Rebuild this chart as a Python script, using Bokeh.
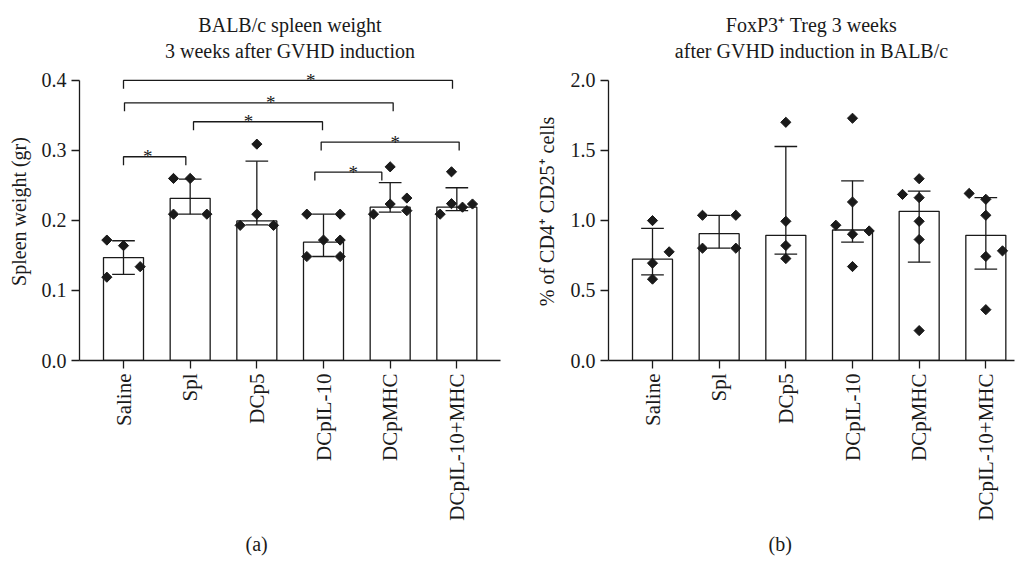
import math
from bokeh.plotting import figure
from bokeh.layouts import row
from bokeh.models import FixedTicker, ColumnDataSource, Title, NumeralTickFormatter
from bokeh.embed import file_html
from bokeh.resources import INLINE

# ---------------- data ----------------
categories = ["Saline", "Spl", "DCp5", "DCpIL-10", "DCpMHC", "DCpIL-10+MHC"]

# (a) spleen weight (gr): bar = median, whiskers = interquartile range
spleen_bar = [0.147, 0.2316, 0.1993, 0.169, 0.219, 0.219]
spleen_lo = [0.123, 0.209, 0.1936, 0.1485, 0.212, 0.214]
spleen_hi = [0.171, 0.259, 0.2847, 0.209, 0.254, 0.2467]
spleen_points = [
    [0.172, 0.164, 0.134, 0.119],
    [0.260, 0.260, 0.209, 0.209],
    [0.309, 0.209, 0.193, 0.193],
    [0.209, 0.209, 0.172, 0.172, 0.1485, 0.1485],
    [0.2766, 0.232, 0.2235, 0.209, 0.214],
    [0.2695, 0.224, 0.219, 0.2235, 0.209],
]
spleen_jitter = [
    [-0.25, 0.0, 0.25, -0.25],
    [-0.25, 0.0, -0.25, 0.25],
    [0.0, 0.0, -0.25, 0.25],
    [-0.25, 0.25, 0.0, 0.25, -0.25, 0.25],
    [0.0, 0.25, 0.0, -0.25, 0.25],
    [-0.08, -0.08, 0.085, 0.235, -0.25],
]
# significance brackets
br_from = [0, 0, 1, 0, 3, 3]
br_to = [5, 4, 3, 1, 5, 4]
br_y = [0.400, 0.368, 0.341, 0.291, 0.312, 0.269]
br_nudge_from = [0.0, 0.015, 0.05, 0.0, -0.035, -0.13]
br_nudge_to = [-0.065, 0.045, -0.015, -0.065, 0.035, -0.125]
star_x = [2.81, 2.21, 1.875, 0.365, 4.075, 3.445]
star_text = ["*", "*", "*", "*", "*", "*"]

# (b) FoxP3+ Treg (% of CD4+ CD25+ cells)
treg_bar = [0.7236, 0.906, 0.894, 0.932, 1.065, 0.894]
treg_lo = [0.612, 0.802, 0.759, 0.845, 0.702, 0.652]
treg_hi = [0.944, 1.037, 1.528, 1.283, 1.21, 1.163]
treg_points = [
    [0.999, 0.776, 0.695, 0.581],
    [1.037, 1.037, 0.802, 0.802],
    [1.701, 0.994, 0.821, 0.728],
    [1.73, 1.132, 0.966, 0.925, 0.902, 0.671],
    [1.298, 1.186, 1.163, 0.994, 0.864, 0.2135],
    [1.193, 1.151, 1.037, 0.783, 0.743, 0.363],
]
treg_jitter = [
    [0.0, 0.25, 0.0, 0.0],
    [-0.25, 0.25, -0.25, 0.25],
    [0.0, 0.0, 0.0, 0.0],
    [0.0, 0.0, -0.25, 0.25, 0.0, 0.0],
    [0.0, -0.25, 0.0, 0.0, 0.0, 0.0],
    [-0.25, 0.0, 0.0, 0.25, 0.0, 0.0],
]

spleen_ticks = [0.0, 0.1, 0.2, 0.3, 0.4]
treg_ticks = [0.0, 0.5, 1.0, 1.5, 2.0]

spleen_title = ["BALB/c spleen weight", "3 weeks after GVHD induction"]
treg_title = ["FoxP3\u207a Treg 3 weeks", "after GVHD induction in BALB/c"]

FONT = "Liberation Serif"
INK = "#1a1a1a"
LW = 1.3
H = 562


def make_panel(width, x_end, y_end, y_ticks, title_lines, ylabel, panel_tag,
               tag_offset, border_left, border_right, label_standoff,
               bars, lo, hi, points, jitter):
    p = figure(width=width, height=H, output_backend="svg",
               toolbar_location=None, x_range=(-0.66, x_end),
               y_range=(0, y_end), min_border_left=border_left,
               min_border_right=border_right, min_border_top=62,
               min_border_bottom=H - 361)
    p.outline_line_color = None
    p.grid.visible = False
    p.background_fill_color = "white"

    # title lines: the first one added sits nearest the frame
    for line in reversed(title_lines):
        p.add_layout(Title(text=line, align="center", text_font=FONT,
                           text_font_size="20px", text_font_style="normal",
                           text_color=INK, standoff=2), "above")
    p.add_layout(Title(text=panel_tag, align="left", offset=tag_offset,
                       text_font=FONT, text_font_size="20px",
                       text_font_style="normal", text_color=INK,
                       standoff=15), "below")

    xs = list(range(len(categories)))
    src = ColumnDataSource(dict(x=xs, bar=bars, lo=lo, hi=hi,
                                cl=[x - 0.17 for x in xs],
                                cr=[x + 0.17 for x in xs]))
    p.vbar(x="x", top="bar", bottom=0, width=0.6, source=src,
           fill_color="white", line_color=INK, line_width=LW)
    p.segment(x0="x", y0="lo", x1="x", y1="hi", source=src,
              line_color=INK, line_width=LW)
    p.segment(x0="cl", y0="hi", x1="cr", y1="hi", source=src,
              line_color=INK, line_width=LW)
    p.segment(x0="cl", y0="lo", x1="cr", y1="lo", source=src,
              line_color=INK, line_width=LW)

    px, py = [], []
    for i, (vals, jit) in enumerate(zip(points, jitter)):
        for v, j in zip(vals, jit):
            px.append(i + j)
            py.append(v)
    p.scatter(px, py, marker="square", angle=math.pi / 4, size=7.2,
              fill_color=INK, line_color=INK)

    # axes
    ax = p.xaxis[0]
    ax.ticker = FixedTicker(ticks=xs)
    ax.major_label_overrides = {i: c for i, c in enumerate(categories)}
    ax.major_label_orientation = math.pi / 2
    ax.minor_tick_line_color = None
    ax.major_label_text_font_size = "21px"

    ay = p.yaxis[0]
    ay.ticker = FixedTicker(ticks=y_ticks)
    ay.formatter = NumeralTickFormatter(format="0.0")
    ay.bounds = (y_ticks[0], y_ticks[-1])
    ay.axis_label = ylabel
    ay.axis_label_text_font = FONT
    ay.axis_label_text_font_size = "20px"
    ay.axis_label_text_font_style = "normal"
    ay.axis_label_text_color = INK
    ay.axis_label_standoff = label_standoff
    ay.minor_tick_line_color = None
    ay.major_label_text_font_size = "20px"

    for a in (ax, ay):
        a.axis_line_color = INK
        a.axis_line_width = LW
        a.major_tick_line_color = INK
        a.major_tick_line_width = LW
        a.major_tick_out = 8
        a.major_tick_in = 0
        a.major_label_text_font = FONT
        a.major_label_text_color = INK
        a.major_label_standoff = 5
    return p


pa = make_panel(510, 5.655, 0.4256, spleen_ticks, spleen_title,
                "Spleen weight (gr)", "(a)", 166, 79, 10, 9,
                spleen_bar, spleen_lo, spleen_hi, spleen_points, spleen_jitter)

# significance brackets on panel (a)
drop = 0.012
bxs, bys = [], []
for f, t, y, nf, nt in zip(br_from, br_to, br_y, br_nudge_from, br_nudge_to):
    x0 = f + nf
    x1 = t + nt
    bxs.append([x0, x0, x1, x1])
    bys.append([y - drop, y, y, y - drop])
pa.multi_line(bxs, bys, line_color=INK, line_width=LW)
pa.text(star_x, br_y, text=star_text, text_font={"value": FONT},
        text_font_size="19px", text_align="center",
        text_baseline="alphabetic", text_color=INK)

pb = make_panel(506, 5.43, 2.128, treg_ticks, treg_title,
                "% of CD4\u207a CD25\u207a cells", "(b)", 160, 98, 2, 10,
                treg_bar, treg_lo, treg_hi, treg_points, treg_jitter)

layout = row(pa, pb)
open("out.html", "w").write(file_html(layout, INLINE))
